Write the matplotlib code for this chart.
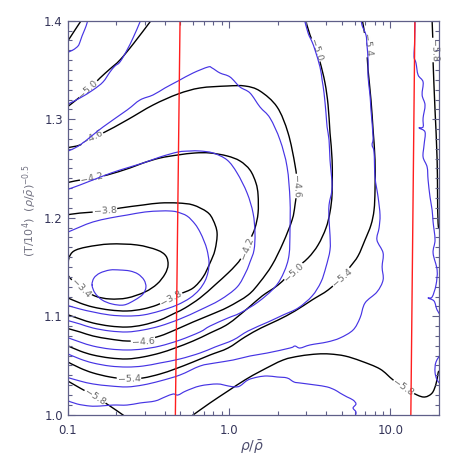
import numpy as np
import matplotlib
matplotlib.use("Agg")
import matplotlib.pyplot as plt
from matplotlib.path import Path
from matplotlib.patches import PathPatch
from matplotlib.ticker import FixedLocator, NullFormatter

# ---------------- data ----------------
# contour traces: x stored as log10(rho/rho_bar), y = (T/1e4)(rho/rho_bar)^-0.5
x_ticks = [0.1, 1.0, 10.0]
x_tick_labels = ["0.1", "1.0", "10.0"]
x_minor = [0.2, 0.3, 0.4, 0.5, 0.6, 0.7, 0.8, 0.9, 2, 3, 4, 5, 6, 7, 8, 9]
y_ticks = [1.0, 1.1, 1.2, 1.3, 1.4]
y_tick_labels = ["1.0", "1.1", "1.2", "1.3", "1.4"]

# ---- black (model) contours ----
k34_lx = [-0.998, -0.998, -0.992, -0.961, -0.880, -0.738, -0.570, -0.446, -0.391, -0.378, -0.397, -0.446,
          -0.521, -0.632, -0.738, -0.831, -0.911, -0.961, -0.998]
k34_y = [1.1418, 1.1489, 1.1591, 1.1662, 1.1703, 1.1733, 1.1723, 1.1672, 1.1611, 1.1520, 1.1428, 1.1327,
         1.1246, 1.1185, 1.1175, 1.1205, 1.1286, 1.1347, 1.1418]

k38_lx = [-1.011, -0.924, -0.769, -0.676, -0.533, -0.428, -0.316, -0.223, -0.136, -0.099, -0.074, -0.087,
          -0.118, -0.161, -0.223, -0.304, -0.366, -0.446, -0.533, -0.632, -0.738, -0.843, -0.924, -1.011]
k38_y = [1.2027, 1.2047, 1.2068, 1.2098, 1.2129, 1.2149, 1.2149, 1.2129, 1.2058, 1.1977, 1.1845, 1.1672,
         1.1540, 1.1398, 1.1286, 1.1225, 1.1175, 1.1114, 1.1073, 1.1053, 1.1063, 1.1093, 1.1134, 1.1195]

k42_lx = [-1.011, -0.955, -0.849, -0.756, -0.614, -0.533, -0.428, -0.316, -0.211, -0.118, -0.012, 0.068,
          0.130, 0.167, 0.180, 0.180, 0.161, 0.130, 0.105, 0.068, 0.037, -0.006, -0.087, -0.180, -0.273,
          -0.335, -0.428, -0.533, -0.632, -0.738, -0.843, -0.924, -1.011]
k42_y = [1.2352, 1.2373, 1.2403, 1.2433, 1.2505, 1.2555, 1.2606, 1.2637, 1.2657, 1.2657, 1.2627, 1.2576,
         1.2484, 1.2352, 1.2231, 1.2047, 1.1895, 1.1774, 1.1682, 1.1571, 1.1510, 1.1438, 1.1317, 1.1185,
         1.1083, 1.1032, 1.0961, 1.0911, 1.0890, 1.0900, 1.0931, 1.0972, 1.1022]

k46_lx = [-1.011, -0.924, -0.874, -0.781, -0.632, -0.471, -0.316, -0.180, -0.012, 0.099, 0.192, 0.298,
          0.366, 0.409, 0.422, 0.409, 0.391, 0.335, 0.267, 0.192, 0.118, -0.006, -0.118, -0.223, -0.335,
          -0.428, -0.533, -0.632, -0.738, -0.843, -0.924, -1.011]
k46_y = [1.2708, 1.2738, 1.2799, 1.2860, 1.2992, 1.3144, 1.3256, 1.3317, 1.3337, 1.3337, 1.3286, 1.3124,
         1.2860, 1.2535, 1.2332, 1.2129, 1.1977, 1.1744, 1.1520, 1.1347, 1.1215, 1.1093, 1.1012, 1.0941,
         1.0860, 1.0799, 1.0758, 1.0748, 1.0768, 1.0799, 1.0840, 1.0880]

k50a_lx = [-1.011, -0.955, -0.874, -0.800, -0.738, -0.676, -0.589, -0.490, -0.471]
k50a_y = [1.3114, 1.3185, 1.3297, 1.3418, 1.3510, 1.3601, 1.3774, 1.3987, 1.4027]

k50b_lx = [0.471, 0.502, 0.539, 0.564, 0.595, 0.614, 0.626, 0.639, 0.639, 0.626, 0.601, 0.552, 0.490,
           0.403, 0.304, 0.205, 0.118, -0.006, -0.118, -0.223, -0.335, -0.428, -0.533, -0.632, -0.738,
           -0.843, -0.924, -1.011]
k50b_y = [1.4027, 1.3855, 1.3703, 1.3581, 1.3368, 1.3144, 1.2860, 1.2586, 1.2251, 1.2058, 1.1895, 1.1723,
          1.1591, 1.1469, 1.1317, 1.1205, 1.1083, 1.0921, 1.0829, 1.0748, 1.0677, 1.0626, 1.0586, 1.0566,
          1.0576, 1.0606, 1.0647, 1.0708]

k54a_lx = [-1.011, -0.967, -0.918, -0.905]
k54a_y = [1.3764, 1.3875, 1.3997, 1.4027]

k54b_lx = [0.824, 0.849, 0.862, 0.880, 0.893, 0.905, 0.905, 0.899, 0.880, 0.843, 0.800, 0.750, 0.694,
           0.614, 0.515, 0.409, 0.304, 0.198, 0.099, -0.006, -0.118, -0.223, -0.335, -0.428, -0.533,
           -0.632, -0.738, -0.843, -0.924, -1.011]
k54b_y = [1.4027, 1.3774, 1.3500, 1.3195, 1.2891, 1.2586, 1.2281, 1.2078, 1.1926, 1.1774, 1.1612, 1.1500,
          1.1388, 1.1266, 1.1165, 1.1053, 1.0961, 1.0880, 1.0789, 1.0677, 1.0606, 1.0535, 1.0464, 1.0413,
          1.0373, 1.0363, 1.0383, 1.0424, 1.0474, 1.0545]

k58a_lx = [-1.011, -0.924, -0.825, -0.738, -0.657, -0.632]
k58a_y = [1.0353, 1.0271, 1.0180, 1.0088, 0.9997, 0.9966]

k58b_lx = [-0.242, -0.223, -0.118, -0.006, 0.099, 0.198, 0.335, 0.440, 0.546, 0.626, 0.719, 0.818, 0.936,
           1.017, 1.091, 1.166, 1.215, 1.259, 1.283, 1.296, 1.315, 1.315, 1.296, 1.290, 1.277, 1.265,
           1.265, 1.259, 1.259]
k58b_y = [0.9977, 0.9997, 1.0119, 1.0241, 1.0353, 1.0444, 1.0555, 1.0596, 1.0616, 1.0616, 1.0596, 1.0545,
          1.0464, 1.0353, 1.0271, 1.0200, 1.0180, 1.0220, 1.0312, 1.0423, 1.0606, 1.1774, 1.1946, 1.2586,
          1.3093, 1.3581, 1.3723, 1.3997, 1.4027]

# ---- blue (simulation) contours ----
b34_lx = [-0.849, -0.837, -0.800, -0.738, -0.676, -0.614, -0.564, -0.527, -0.515, -0.533, -0.583, -0.651,
          -0.725, -0.787, -0.831, -0.849]
b34_y = [1.1317, 1.1388, 1.1438, 1.1469, 1.1469, 1.1459, 1.1428, 1.1368, 1.1296, 1.1225, 1.1165, 1.1114,
         1.1124, 1.1165, 1.1236, 1.1317]

b38_lx = [-1.011, -0.924, -0.843, -0.738, -0.632, -0.521, -0.428, -0.366, -0.322, -0.260, -0.211, -0.180,
          -0.155, -0.136, -0.124, -0.130, -0.149, -0.186, -0.242, -0.322, -0.428, -0.533, -0.632, -0.738,
          -0.843, -0.924, -1.011]
b38_y = [1.1845, 1.1906, 1.1957, 1.1997, 1.2027, 1.2058, 1.2068, 1.2068, 1.2058, 1.2017, 1.1936, 1.1855,
         1.1763, 1.1672, 1.1550, 1.1449, 1.1357, 1.1266, 1.1185, 1.1114, 1.1053, 1.1012, 1.1002, 1.1012,
         1.1043, 1.1073, 1.1114]

b42_lx = [-1.011, -0.924, -0.781, -0.676, -0.533, -0.428, -0.316, -0.242, -0.180, -0.099, -0.012, 0.050,
          0.112, 0.149, 0.161, 0.155, 0.130, 0.105, 0.050, -0.056, -0.180, -0.304, -0.428, -0.533, -0.632,
          -0.738, -0.843, -0.924, -1.011]
b42_y = [1.2281, 1.2332, 1.2423, 1.2484, 1.2555, 1.2616, 1.2667, 1.2677, 1.2677, 1.2657, 1.2586, 1.2454,
         1.2251, 1.2047, 1.1845, 1.1672, 1.1550, 1.1449, 1.1296, 1.1165, 1.1063, 1.0972, 1.0900, 1.0860,
         1.0840, 1.0850, 1.0880, 1.0921, 1.0961]

b46_lx = [-1.011, -0.924, -0.781, -0.632, -0.552, -0.471, -0.397, -0.316, -0.223, -0.130, -0.105, -0.056,
          0.006, 0.068, 0.130, 0.192, 0.254, 0.316, 0.360, 0.378, 0.378, 0.372, 0.341, 0.285, 0.180, 0.068,
          -0.006, -0.118, -0.180, -0.304, -0.428, -0.533, -0.632, -0.738, -0.843, -0.924, -1.011]
b46_y = [1.2667, 1.2738, 1.2921, 1.3093, 1.3195, 1.3246, 1.3317, 1.3388, 1.3469, 1.3530, 1.3520, 1.3469,
         1.3429, 1.3327, 1.3266, 1.3124, 1.3012, 1.2789, 1.2515, 1.2180, 1.1875, 1.1621, 1.1449, 1.1296,
         1.1144, 1.1032, 1.0982, 1.0900, 1.0840, 1.0758, 1.0697, 1.0667, 1.0657, 1.0667, 1.0697, 1.0738,
         1.0789]

b50a_lx = [-1.011, -0.924, -0.843, -0.781, -0.738, -0.707, -0.676, -0.632, -0.595, -0.552, -0.546]
b50a_y = [1.3144, 1.3215, 1.3297, 1.3378, 1.3479, 1.3540, 1.3581, 1.3703, 1.3825, 1.3987, 1.4027]

b50b_lx = [0.465, 0.490, 0.515, 0.533, 0.564, 0.577, 0.589, 0.601, 0.608, 0.620, 0.626, 0.639, 0.620,
           0.620, 0.626, 0.626, 0.601, 0.570, 0.515, 0.428, 0.335, 0.242, 0.118, 0.025, -0.087, -0.180,
           -0.304, -0.428, -0.533, -0.632, -0.738, -0.843, -0.924, -1.011]
b50b_y = [1.4027, 1.3875, 1.3784, 1.3703, 1.3530, 1.3398, 1.3266, 1.3063, 1.2921, 1.2789, 1.2586, 1.2311,
          1.2129, 1.1977, 1.1824, 1.1672, 1.1500, 1.1347, 1.1205, 1.1083, 1.1012, 1.0941, 1.0850, 1.0758,
          1.0687, 1.0626, 1.0566, 1.0525, 1.0494, 1.0484, 1.0494, 1.0525, 1.0566, 1.0626]

b54a_lx = [-1.011, -0.967, -0.936, -0.924, -0.911, -0.893, -0.880, -0.874]
b54a_y = [1.3672, 1.3703, 1.3743, 1.3784, 1.3845, 1.3916, 1.3977, 1.4027]

b54b_lx = [0.818, 0.824, 0.849, 0.855, 0.862, 0.862, 0.874, 0.880, 0.893, 0.887, 0.899, 0.905, 0.924,
           0.936, 0.930, 0.917, 0.955, 0.949, 0.955, 0.917, 0.843, 0.812, 0.769, 0.688, 0.608, 0.502,
           0.440, 0.409, 0.378, 0.236, 0.130, 0.025, -0.087, -0.180, -0.304, -0.428, -0.533, -0.632,
           -0.738, -0.843, -0.924, -1.011]
b54b_y = [1.4027, 1.3956, 1.3855, 1.3754, 1.3601, 1.3429, 1.3246, 1.3093, 1.2819, 1.2738, 1.2667, 1.2413,
          1.2210, 1.2027, 1.1895, 1.1774, 1.1642, 1.1500, 1.1368, 1.1246, 1.1134, 1.0982, 1.0860, 1.0779,
          1.0738, 1.0708, 1.0677, 1.0697, 1.0677, 1.0626, 1.0596, 1.0555, 1.0525, 1.0494, 1.0403, 1.0342,
          1.0302, 1.0282, 1.0292, 1.0312, 1.0342, 1.0383]

b58_lx = [-1.011, -0.942, -0.862, -0.800, -0.719, -0.632, -0.552, -0.459, -0.397, -0.347, -0.316, -0.267,
          -0.180, -0.074, -0.006, 0.037, 0.068, 0.118, 0.180, 0.236, 0.298, 0.360, 0.403, 0.440, 0.533,
          0.608, 0.657, 0.688, 0.732, 0.769, 0.787, 0.769, 0.787, 0.781]
b58_y = [1.0149, 1.0109, 1.0088, 1.0088, 1.0098, 1.0098, 1.0119, 1.0139, 1.0180, 1.0210, 1.0200, 1.0241,
         1.0292, 1.0312, 1.0292, 1.0282, 1.0292, 1.0353, 1.0383, 1.0393, 1.0383, 1.0373, 1.0332, 1.0322,
         1.0302, 1.0282, 1.0251, 1.0220, 1.0180, 1.0149, 1.0109, 1.0068, 1.0027, 0.9977]

bedge_lx = [1.153, 1.150, 1.147, 1.159, 1.172, 1.203, 1.197, 1.215, 1.203, 1.203, 1.178, 1.215, 1.209,
            1.203, 1.228, 1.234, 1.246, 1.259, 1.265, 1.277, 1.265, 1.290, 1.283, 1.259, 1.234, 1.271,
            1.290, 1.321]
bedge_y = [1.4027, 1.3754, 1.3632, 1.3571, 1.3449, 1.3378, 1.3246, 1.3144, 1.3012, 1.2921, 1.2911, 1.2870,
           1.2738, 1.2616, 1.2515, 1.2383, 1.2210, 1.2078, 1.1957, 1.1774, 1.1642, 1.1469, 1.1317, 1.1195,
           1.1185, 1.1154, 1.1063, 1.0982]

bsmall_lx = [1.321, 1.283, 1.277, 1.290, 1.321]
bsmall_y = [1.0637, 1.0535, 1.0434, 1.0353, 1.0292]

# ---- contour labels on the black curves ----
label_text = ["\u22123.4", "\u22123.8", "\u22123.8", "\u22124.2", "\u22124.2", "\u22124.6", "\u22124.6",
              "\u22124.6", "\u22125.0", "\u22125.0", "\u22125.0", "\u22125.4", "\u22125.4", "\u22125.4",
              "\u22125.8", "\u22125.8", "\u22125.8"]
label_lx = [-0.917, -0.769, -0.360, -0.849, 0.112, -0.849, 0.416, -0.533, -0.874, 0.539, 0.403, 0.855,
            0.701, -0.620, 1.271, 1.079, -0.831]
label_y = [1.1286, 1.2068, 1.1185, 1.2403, 1.1692, 1.2809, 1.2322, 1.0738, 1.3307, 1.3703, 1.1449, 1.3754,
           1.1388, 1.0363, 1.3703, 1.0271, 1.0180]
label_rot = [-45, 3, 28, 12, 68, 27, -88, 3, 42, -72, 42, -82, 40, 2, -88, -35, -33]

# ---- red vertical markers ----
red_rho_top = [0.497, 14.2]
red_rho_bottom = [0.465, 13.4]
red_y = [1.4, 1.0]

black_pieces = [(k34_lx, k34_y), (k38_lx, k38_y), (k42_lx, k42_y), (k46_lx, k46_y),
                (k50a_lx, k50a_y), (k50b_lx, k50b_y), (k54a_lx, k54a_y), (k54b_lx, k54b_y),
                (k58a_lx, k58a_y), (k58b_lx, k58b_y)]
blue_pieces = [(b34_lx, b34_y), (b38_lx, b38_y), (b42_lx, b42_y), (b46_lx, b46_y),
               (b50a_lx, b50a_y), (b50b_lx, b50b_y), (b54a_lx, b54a_y), (b54b_lx, b54b_y),
               (b58_lx, b58_y), (bedge_lx, bedge_y), (bsmall_lx, bsmall_y)]


def smooth_path(lx, y):
    """Catmull-Rom curve through the traced points, drawn as cubic Bezier segments."""
    P = np.column_stack([lx, y]).astype(float)
    closed = np.allclose(P[0], P[-1])
    if closed:
        Q = P[:-1]
        ext = np.vstack([Q[-1], Q, Q[0], Q[1]])
        nseg = len(Q)
    else:
        ext = np.vstack([P[0], P, P[-1]])
        nseg = len(P) - 1
    verts = [ext[1]]
    codes = [Path.MOVETO]
    for i in range(nseg):
        p0, p1, p2, p3 = ext[i], ext[i + 1], ext[i + 2], ext[i + 3]
        verts += [p1 + (p2 - p0) / 6.0, p2 - (p3 - p1) / 6.0, p2]
        codes += [Path.CURVE4] * 3
    V = np.array(verts)
    V[:, 0] = 10.0 ** V[:, 0]
    return Path(V, codes)


axis_col = "#5f5f88"
tick_txt = "#35355a"

fig = plt.figure(figsize=(4.58, 4.58), dpi=100)
L, R, T, B = 67.7, 438.9, 20.7, 414.7
ax = fig.add_axes([L / 458, 1 - B / 458, (R - L) / 458, (B - T) / 458])
ax.set_xscale("log")
ax.set_xlim(0.1, 20)
ax.set_ylim(1.0, 1.4)

for lx, yy in black_pieces:
    ax.add_patch(PathPatch(smooth_path(lx, yy), facecolor="none", edgecolor="black",
                           lw=1.0, zorder=2, capstyle="round", joinstyle="round"))
for lx, yy in blue_pieces:
    ax.add_patch(PathPatch(smooth_path(lx, yy), facecolor="none", edgecolor="#4634e4",
                           lw=0.85, zorder=3, capstyle="round", joinstyle="round"))

for t, lx, yy, r in zip(label_text, label_lx, label_y, label_rot):
    ax.text(10 ** lx, yy, t, rotation=r, rotation_mode="anchor", ha="center", va="center",
            fontsize=6.8, color="#6a6a6a", family="DejaVu Sans", zorder=2.5,
            bbox=dict(boxstyle="square,pad=0.08", fc="white", ec="none"))

for xt, xb in zip(red_rho_top, red_rho_bottom):
    ax.plot([xt, xb], red_y, color="#ff1e1e", lw=1.0, zorder=4)

ax.set_xticks(x_ticks)
ax.set_xticklabels(x_tick_labels)
ax.xaxis.set_minor_locator(FixedLocator(x_minor))
ax.xaxis.set_minor_formatter(NullFormatter())
ax.set_yticks(y_ticks)
ax.set_yticklabels(y_tick_labels)
ax.yaxis.set_minor_locator(FixedLocator(np.round(np.arange(1.01, 1.40, 0.01), 2)))
ax.yaxis.set_minor_formatter(NullFormatter())

ax.tick_params(which="both", direction="in", top=True, right=True, color=axis_col, width=0.8,
               labelcolor=tick_txt, labelsize=8.5)
ax.tick_params(which="major", length=5.0)
ax.tick_params(which="minor", length=2.8)
ax.tick_params(axis="x", which="major", pad=7)
ax.tick_params(axis="y", which="major", pad=3.5)
for lab in ax.get_xticklabels() + ax.get_yticklabels():
    lab.set_family("DejaVu Sans")
for s in ax.spines.values():
    s.set_color(axis_col)
    s.set_linewidth(0.9)
    s.set_zorder(6)
ax.set_axisbelow(False)

fig.text(252 / 458, 1 - 447 / 458, r"$\rho/\bar{\rho}$", ha="center", va="center",
         fontsize=10, color="#505070")
fig.text(30 / 458, 1 - 211 / 458, r"(T/10$^4$)  ($\rho/\bar{\rho}$)$^{-0.5}$", rotation=90,
         ha="center", va="center", fontsize=8, color="#707080")

fig.savefig("out.png", dpi=100)
